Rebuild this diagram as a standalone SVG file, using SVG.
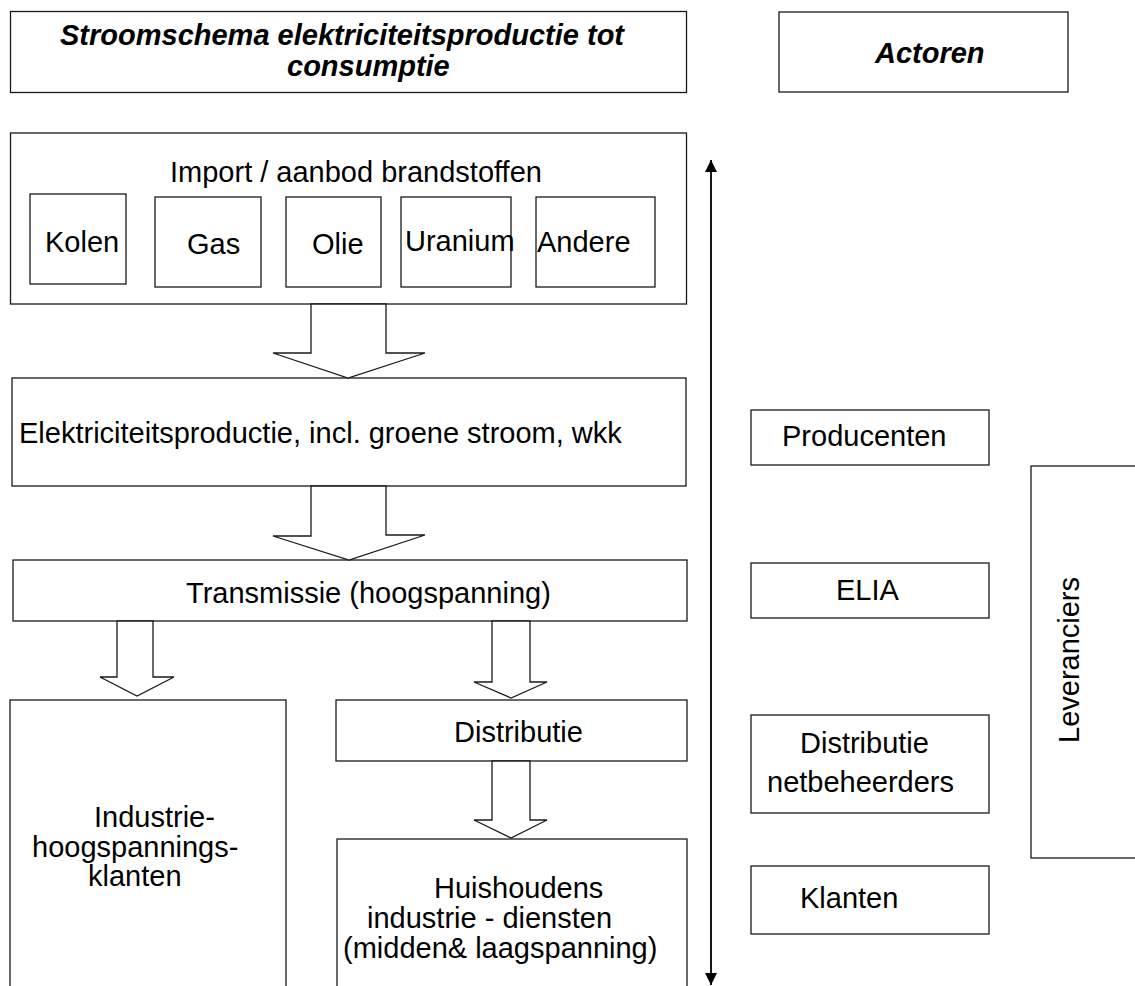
<svg xmlns="http://www.w3.org/2000/svg" width="1135" height="986" viewBox="0 0 1135 986">
<style>
  .box { fill: #ffffff; stroke: #1a1a1a; stroke-width: 1.3; }
  .blk { fill: #ffffff; stroke: #1a1a1a; stroke-width: 1.3; stroke-linejoin: miter; }
  .t { font-family: "Liberation Sans", Arial, sans-serif; font-size: 29px; fill: #000; }
  .tb { font-family: "Liberation Sans", Arial, sans-serif; font-size: 29px; font-weight: bold; font-style: italic; fill: #000; }
  .axis { stroke: #000; stroke-width: 1.8; fill: none; }
</style>
<defs>
  <marker id="ah" viewBox="0 0 12 12" refX="12" refY="6" markerWidth="12" markerHeight="12" markerUnits="userSpaceOnUse" orient="auto">
    <path d="M0,0 L12,6 L0,12 Z" fill="#000"/>
  </marker>
</defs>
<rect x="0" y="0" width="1135" height="986" fill="#ffffff"/>

<g id="title">
  <rect class="box" x="10.5" y="11.5" width="676" height="81"/>
  <text class="tb" x="60" y="45">Stroomschema elektriciteitsproductie tot</text>
  <text class="tb" x="287" y="76">consumptie</text>
</g>
<g id="actoren">
  <rect class="box" x="779" y="12" width="289" height="80"/>
  <text class="tb" x="875" y="63">Actoren</text>
</g>

<g id="import">
  <rect class="box" x="10.5" y="133" width="676" height="171"/>
  <text class="t" x="170" y="182">Import / aanbod brandstoffen</text>
</g>
<g id="kolen">
  <rect class="box" x="30" y="194" width="96" height="90"/>
  <text class="t" x="45" y="252">Kolen</text>
</g>
<g id="gas">
  <rect class="box" x="155" y="197" width="106" height="90"/>
  <text class="t" x="187" y="254">Gas</text>
</g>
<g id="olie">
  <rect class="box" x="286" y="197" width="95" height="90"/>
  <text class="t" x="312" y="254">Olie</text>
</g>
<g id="uranium">
  <rect class="box" x="401" y="197" width="110" height="90"/>
  <text class="t" x="405" y="251">Uranium</text>
</g>
<g id="andere">
  <rect class="box" x="536" y="197" width="119" height="90"/>
  <text class="t" x="537" y="252">Andere</text>
</g>

<g id="productie">
  <rect class="box" x="12" y="378" width="674" height="108"/>
  <text class="t" x="19" y="443">Elektriciteitsproductie, incl. groene stroom, wkk</text>
</g>
<g id="transmissie">
  <rect class="box" x="13" y="560" width="674" height="61"/>
  <text class="t" x="186" y="603">Transmissie (hoogspanning)</text>
</g>
<g id="industrie">
  <rect class="box" x="10" y="700" width="276" height="320"/>
  <text class="t" x="94" y="827">Industrie-</text>
  <text class="t" x="32" y="857">hoogspannings-</text>
  <text class="t" x="88" y="886">klanten</text>
</g>
<g id="distributie">
  <rect class="box" x="336" y="700" width="351" height="61"/>
  <text class="t" x="454" y="742">Distributie</text>
</g>
<g id="huishoudens">
  <rect class="box" x="337" y="839" width="350" height="200"/>
  <text class="t" x="434" y="898">Huishoudens</text>
  <text class="t" x="367" y="928">industrie - diensten</text>
  <text class="t" x="343" y="958">(midden&amp; laagspanning)</text>
</g>

<g id="producenten">
  <rect class="box" x="751" y="410" width="238" height="55"/>
  <text class="t" x="782" y="446">Producenten</text>
</g>
<g id="elia">
  <rect class="box" x="751" y="563" width="238" height="55"/>
  <text class="t" x="836" y="600">ELIA</text>
</g>
<g id="netbeheerders">
  <rect class="box" x="751" y="715" width="238" height="98"/>
  <text class="t" x="800" y="753">Distributie</text>
  <text class="t" x="767" y="792">netbeheerders</text>
</g>
<g id="klanten">
  <rect class="box" x="751" y="866" width="238" height="68"/>
  <text class="t" x="800" y="908">Klanten</text>
</g>
<g id="leveranciers">
  <rect class="box" x="1031" y="466" width="130" height="392"/>
  <text class="t" transform="translate(1079,743) rotate(-90)">Leveranciers</text>
</g>

<g id="connectors">
  <polygon class="blk" points="311,304 386,304 386,353 425,353 348,378 273,353 311,353"/>
  <polygon class="blk" points="311,486 386,486 386,535 425,535 349,560 273,536 311,536"/>
  <polygon class="blk" points="117,621 153,621 153,677 174,677 137,696 100,677 117,677"/>
  <polygon class="blk" points="492,621 530,621 530,682 547,682 511,698 474,682 492,682"/>
  <polygon class="blk" points="492,761 530,761 530,820 547,820 511,838 474,820 492,820"/>
  <line class="axis" x1="711" y1="572" x2="711" y2="160" marker-end="url(#ah)"/>
  <line class="axis" x1="711" y1="572" x2="711" y2="985" marker-end="url(#ah)"/>
</g>
</svg>
